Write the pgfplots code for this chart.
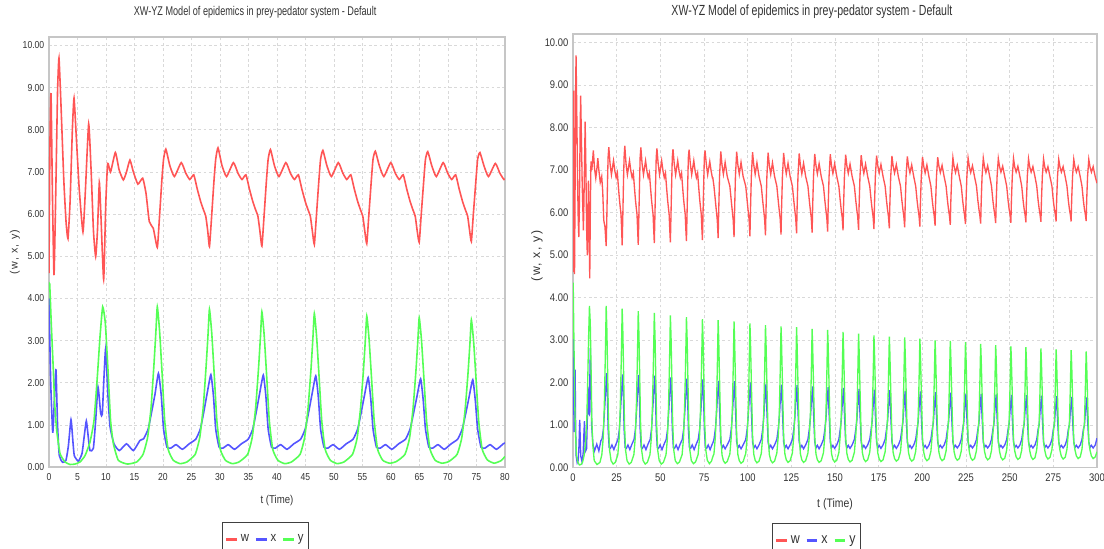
\documentclass[border=0pt]{standalone}
\usepackage{pgfplots}
\pgfplotsset{compat=1.18}
\usepackage{pgfplotstable}
\usepackage{fontspec}
\setmainfont{Liberation Sans}[FakeStretch=0.85]
\newfontfamily\titlefont{Liberation Sans}[FakeStretch=0.72]
\newfontfamily\ylabfont{Liberation Sans}[LetterSpace=12]

\definecolor{cw}{HTML}{FF5555}
\definecolor{cx}{HTML}{5555FF}
\definecolor{cy}{HTML}{55FF55}
\definecolor{txt}{HTML}{333333}

% w (prey) for 0 <= t <= 80
\pgfplotstableread{
t v
0 4.6
0.15 7.5
0.35 8.87
0.6 6.5
0.88 4.55
1.2 6.6
1.5 8.9
1.75 9.70
2.1 8.6
2.6 6.8
3.0 5.8
3.33 5.42
3.7 6.3
4.1 8.0
4.39 8.75
4.8 7.8
5.3 6.6
5.96 5.58
6.4 6.6
6.96 8.14
7.4 7.0
7.8 5.6
8.19 4.99
8.5 5.6
8.83 6.75
9.1 6.0
9.59 4.45
9.95 6.2
10.29 7.20
10.8 7.0
11.64 7.46
12.3 7.05
13.04 6.81
13.6 7.0
14.2 7.28
14.8 7.0
15.6 6.71
16.44 6.85
17.02 6.49
17.6 5.82
18.3 5.66
19.0 5.21
19.35 5.86
19.8 6.8
20.1 7.3
20.5 7.54
21.2 7.15
22.0 6.89
23.2 7.22
24.0 6.97
24.7 6.82
25.4 6.93
26.0 6.6
26.6 6.3
27.1 6.1
27.5 5.95
27.85 5.6
28.15 5.23
28.5 5.88
28.95 6.8
29.25 7.3
29.65 7.57
30.35 7.15
31.15 6.89
32.35 7.22
33.15 6.97
33.85 6.82
34.55 6.93
35.15 6.6
35.75 6.3
36.25 6.1
36.65 5.95
37.0 5.6
37.35 5.24
37.7 5.89
38.15 6.8
38.45 7.3
38.85 7.53
39.55 7.15
40.35 6.89
41.55 7.22
42.35 6.97
43.05 6.82
43.75 6.93
44.35 6.6
44.95 6.3
45.45 6.1
45.85 5.95
46.2 5.6
46.55 5.28
46.9 5.93
47.35 6.8
47.65 7.3
48.05 7.51
48.75 7.15
49.55 6.89
50.75 7.22
51.55 6.97
52.25 6.82
52.95 6.93
53.55 6.6
54.15 6.3
54.65 6.1
55.05 5.95
55.4 5.6
55.75 5.30
56.1 5.95
56.55 6.8
56.85 7.3
57.25 7.49
57.95 7.15
58.75 6.89
59.95 7.22
60.75 6.97
61.45 6.82
62.15 6.93
62.75 6.6
63.35 6.3
63.85 6.1
64.25 5.95
64.6 5.6
64.95 5.33
65.3 5.98
65.75 6.8
66.05 7.3
66.45 7.48
67.15 7.15
67.95 6.89
69.15 7.22
69.95 6.97
70.65 6.82
71.35 6.93
71.95 6.6
72.55 6.3
73.05 6.1
73.45 5.95
73.8 5.6
74.1 5.35
74.45 6.0
74.9 6.8
75.2 7.3
75.6 7.46
76.3 7.15
77.1 6.89
78.3 7.2
79.1 6.97
79.8 6.82
80.0 6.83
}\wA

% x (infected) for 0 <= t <= 80
\pgfplotstableread{
t v
0 4.0
0.3 2.0
0.64 0.83
0.8 1.1
1.0 1.8
1.23 2.30
1.5 1.0
1.81 0.27
2.4 0.11
2.98 0.16
3.4 0.5
3.86 1.12
4.2 0.6
4.44 0.27
5.14 0.14
5.79 0.32
6.2 0.75
6.55 1.09
6.9 0.7
7.19 0.39
7.78 0.44
8.19 1.11
8.6 1.90
9.07 1.27
9.35 1.25
9.6 2.0
9.94 2.81
10.3 1.8
10.7 0.97
11.4 0.55
12.34 0.39
13.6 0.55
14.8 0.39
15.96 0.63
16.6 0.67
17.4 0.9
18.0 1.3
18.6 1.73
19.2 2.22
19.7 1.69
20.1 0.9
20.7 0.47
21.4 0.45
22.3 0.53
23.4 0.42
24.6 0.55
25.75 0.66
26.55 0.9
27.15 1.3
27.75 1.75
28.4 2.19
28.85 1.69
29.25 0.9
29.85 0.47
30.55 0.45
31.45 0.53
32.55 0.42
33.75 0.55
34.95 0.66
35.75 0.9
36.35 1.3
36.95 1.74
37.6 2.18
38.05 1.68
38.45 0.9
39.05 0.47
39.75 0.45
40.65 0.53
41.75 0.42
42.95 0.55
44.15 0.66
44.95 0.9
45.55 1.3
46.15 1.73
46.8 2.16
47.25 1.66
47.65 0.9
48.25 0.47
48.95 0.45
49.85 0.53
50.95 0.42
52.15 0.55
53.35 0.66
54.15 0.9
54.75 1.28
55.35 1.70
56.0 2.12
56.45 1.62
56.85 0.9
57.45 0.47
58.15 0.45
59.05 0.53
60.15 0.42
61.35 0.55
62.55 0.66
63.35 0.9
63.95 1.27
64.55 1.67
65.2 2.09
65.65 1.59
66.05 0.9
66.65 0.47
67.35 0.45
68.25 0.53
69.35 0.42
70.55 0.55
71.7 0.66
72.5 0.9
73.1 1.26
73.7 1.66
74.35 2.07
74.8 1.57
75.2 0.9
75.8 0.47
76.5 0.45
77.4 0.53
78.5 0.42
79.7 0.55
80.0 0.57
}\xA

% y (predator) for 0 <= t <= 80
\pgfplotstableread{
t v
0 4.2
0.12 4.35
0.4 3.4
0.76 2.30
1.0 1.5
1.35 0.87
1.93 0.32
2.81 0.12
3.68 0.06
4.56 0.07
5.44 0.12
6.32 0.27
7.19 0.59
7.9 1.11
8.48 2.14
8.95 3.09
9.42 3.80
9.88 3.41
10.35 2.30
10.8 1.11
11.3 0.55
12.16 0.16
13.74 0.07
15.4 0.12
16.5 0.3
17.3 0.7
17.9 1.4
18.4 2.4
18.75 3.2
19.0 3.80
19.4 3.23
19.85 2.2
20.3 1.1
20.9 0.42
21.8 0.16
23.0 0.08
24.2 0.12
25.65 0.3
26.45 0.7
27.05 1.4
27.55 2.36
27.9 3.14
28.15 3.74
28.55 3.18
29.0 2.17
29.45 1.1
30.05 0.42
30.95 0.16
32.15 0.08
33.35 0.12
34.85 0.3
35.65 0.7
36.25 1.4
36.75 2.32
37.1 3.09
37.35 3.68
37.75 3.13
38.2 2.13
38.65 1.1
39.25 0.42
40.15 0.16
41.35 0.08
42.55 0.12
44.05 0.3
44.85 0.7
45.45 1.4
45.95 2.29
46.3 3.06
46.55 3.64
46.95 3.09
47.4 2.11
47.85 1.1
48.45 0.42
49.35 0.16
50.55 0.08
51.75 0.12
53.25 0.3
54.05 0.68
54.65 1.38
55.15 2.26
55.5 3.01
55.75 3.58
56.15 3.04
56.6 2.08
57.05 1.1
57.65 0.42
58.55 0.16
59.75 0.09
60.95 0.13
62.45 0.3
63.25 0.68
63.85 1.36
64.35 2.23
64.7 2.97
64.95 3.54
65.35 3.01
65.8 2.05
66.25 1.08
66.85 0.42
67.75 0.16
68.95 0.09
70.15 0.13
71.6 0.3
72.4 0.68
73.0 1.35
73.5 2.2
73.85 2.93
74.1 3.49
74.5 2.97
74.95 2.02
75.4 1.07
76.0 0.42
76.9 0.17
78.1 0.09
79.3 0.15
80.0 0.25
}\yA

% w, x, y for 80 <= t <= 300
\pgfplotstableread{
t w x y
80.0 6.83 0.57 0.25
80.7 6.62 0.66 0.32
81.5 6.28 0.90 0.72
82.1 6.03 1.22 1.32
82.6 5.82 1.59 2.29
83.1 5.40 1.88 3.47
83.4 6.00 2.04 3.05
83.9 6.85 1.39 2.08
84.6 7.44 0.60 0.76
85.3 7.12 0.46 0.30
86.1 6.90 0.52 0.16
87.1 7.18 0.44 0.10
88.3 6.85 0.53 0.14
89.8 6.62 0.66 0.32
90.6 6.28 0.90 0.72
91.2 6.03 1.22 1.31
91.7 5.83 1.58 2.27
92.2 5.42 1.87 3.44
92.5 6.02 2.03 3.03
93.0 6.85 1.38 2.06
93.7 7.43 0.60 0.76
94.4 7.12 0.46 0.30
95.2 6.90 0.52 0.16
96.2 7.18 0.44 0.10
97.4 6.85 0.53 0.14
98.9 6.62 0.66 0.33
99.7 6.28 0.90 0.72
100.3 6.03 1.20 1.29
100.8 5.84 1.56 2.24
101.3 5.44 1.84 3.39
101.6 6.04 2.00 2.98
102.1 6.85 1.36 2.03
102.8 7.42 0.60 0.75
103.5 7.12 0.46 0.31
104.3 6.90 0.52 0.17
105.3 7.17 0.44 0.11
106.5 6.85 0.53 0.15
107.8 6.62 0.66 0.33
108.6 6.28 0.90 0.73
109.2 6.04 1.18 1.27
109.7 5.85 1.54 2.21
110.2 5.46 1.81 3.35
110.5 6.06 1.97 2.95
111.0 6.85 1.34 2.01
111.7 7.41 0.60 0.74
112.4 7.11 0.46 0.31
113.2 6.90 0.52 0.17
114.2 7.17 0.44 0.11
115.4 6.85 0.53 0.15
116.7 6.62 0.66 0.34
117.5 6.28 0.90 0.73
118.1 6.04 1.17 1.26
118.6 5.86 1.52 2.19
119.1 5.48 1.79 3.32
119.4 6.08 1.95 2.92
119.9 6.85 1.33 1.99
120.6 7.40 0.60 0.73
121.3 7.11 0.46 0.32
122.1 6.91 0.52 0.18
123.1 7.16 0.44 0.12
124.3 6.85 0.53 0.16
125.6 6.62 0.66 0.34
126.4 6.28 0.90 0.74
127.0 6.05 1.16 1.25
127.5 5.87 1.51 2.18
128.0 5.51 1.78 3.30
128.3 6.10 1.94 2.90
128.8 6.85 1.32 1.98
129.5 7.39 0.60 0.73
130.2 7.11 0.46 0.32
131.0 6.91 0.52 0.18
132.0 7.16 0.44 0.12
133.2 6.85 0.53 0.16
134.5 6.62 0.66 0.34
135.3 6.28 0.90 0.74
135.9 6.05 1.15 1.24
136.4 5.88 1.49 2.15
136.9 5.53 1.76 3.26
137.2 6.12 1.91 2.87
137.7 6.85 1.30 1.96
138.4 7.38 0.60 0.72
139.1 7.11 0.46 0.32
139.9 6.91 0.52 0.18
140.9 7.15 0.44 0.12
142.1 6.85 0.53 0.16
143.4 6.62 0.66 0.35
144.2 6.28 0.90 0.75
144.8 6.05 1.13 1.23
145.3 5.88 1.47 2.14
145.8 5.55 1.74 3.24
146.1 6.13 1.89 2.85
146.6 6.85 1.29 1.94
147.3 7.37 0.60 0.71
148.0 7.10 0.46 0.33
148.8 6.92 0.52 0.19
149.8 7.15 0.45 0.13
151.0 6.85 0.53 0.17
152.2 6.62 0.66 0.35
153.0 6.28 0.90 0.75
153.6 6.05 1.12 1.21
154.1 5.89 1.46 2.11
154.6 5.58 1.72 3.19
154.9 6.15 1.87 2.81
155.4 6.85 1.27 1.91
156.1 7.36 0.60 0.70
156.8 7.10 0.46 0.33
157.6 6.92 0.52 0.19
158.6 7.14 0.45 0.13
159.8 6.85 0.53 0.17
161.1 6.62 0.66 0.36
161.9 6.28 0.90 0.76
162.5 6.06 1.11 1.20
163.0 5.90 1.44 2.08
163.5 5.59 1.70 3.15
163.8 6.16 1.85 2.77
164.3 6.85 1.26 1.89
165.0 7.35 0.60 0.69
165.7 7.10 0.46 0.34
166.5 6.92 0.52 0.20
167.5 7.14 0.45 0.14
168.7 6.85 0.53 0.18
169.9 6.62 0.66 0.36
170.7 6.28 0.90 0.76
171.3 6.06 1.10 1.18
171.8 5.90 1.43 2.05
172.3 5.61 1.68 3.11
172.6 6.18 1.83 2.74
173.1 6.85 1.24 1.87
173.8 7.34 0.60 0.68
174.5 7.10 0.46 0.34
175.3 6.93 0.52 0.20
176.3 7.13 0.45 0.14
177.5 6.85 0.53 0.18
178.7 6.62 0.66 0.37
179.5 6.28 0.90 0.77
180.1 6.06 1.09 1.17
180.6 5.91 1.42 2.03
181.1 5.63 1.67 3.08
181.4 6.19 1.82 2.71
181.9 6.85 1.24 1.85
182.6 7.33 0.60 0.68
183.3 7.09 0.46 0.35
184.1 6.93 0.52 0.21
185.1 7.13 0.45 0.15
186.3 6.84 0.53 0.19
187.5 6.62 0.66 0.37
188.3 6.28 0.90 0.77
188.9 6.06 1.08 1.16
189.4 5.91 1.40 2.02
189.9 5.65 1.66 3.06
190.2 6.20 1.80 2.69
190.7 6.85 1.22 1.84
191.4 7.32 0.60 0.67
192.1 7.09 0.46 0.35
192.9 6.93 0.52 0.21
193.9 7.12 0.45 0.15
195.1 6.84 0.53 0.19
196.2 6.62 0.66 0.38
197.0 6.28 0.90 0.78
197.6 6.07 1.07 1.15
198.1 5.92 1.40 2.00
198.6 5.67 1.65 3.03
198.9 6.22 1.79 2.67
199.4 6.85 1.22 1.82
200.1 7.31 0.60 0.67
200.8 7.09 0.47 0.36
201.6 6.93 0.52 0.22
202.6 7.12 0.45 0.16
203.8 6.84 0.53 0.20
204.9 6.62 0.66 0.38
205.7 6.28 0.90 0.78
206.3 6.07 1.06 1.14
206.8 5.92 1.38 1.97
207.3 5.69 1.63 2.99
207.6 6.23 1.77 2.63
208.1 6.85 1.20 1.79
208.8 7.30 0.60 0.66
209.5 7.09 0.47 0.36
210.3 6.94 0.52 0.22
211.3 7.11 0.46 0.16
212.5 6.84 0.53 0.20
213.6 6.62 0.66 0.39
214.4 6.28 0.90 0.79
215.0 6.07 1.06 1.13
215.5 5.93 1.37 1.97
216.0 5.71 1.62 2.98
216.3 6.24 1.76 2.62
216.8 6.85 1.20 1.79
217.5 7.29 0.60 0.66
218.2 7.08 0.47 0.37
219.0 6.94 0.52 0.23
220.0 7.11 0.46 0.17
221.2 6.84 0.53 0.21
222.3 6.62 0.66 0.39
223.1 6.28 0.90 0.79
223.7 6.07 1.04 1.12
224.2 5.93 1.36 1.95
224.7 5.73 1.60 2.95
225.0 6.25 1.74 2.60
225.5 6.85 1.18 1.77
226.2 7.28 0.60 0.65
226.9 7.08 0.47 0.37
227.7 6.94 0.52 0.23
228.7 7.10 0.46 0.17
229.9 6.84 0.53 0.21
231.0 6.62 0.66 0.40
231.8 6.28 0.90 0.80
232.4 6.08 1.04 1.11
232.9 5.94 1.35 1.92
233.4 5.74 1.59 2.91
233.7 6.26 1.73 2.56
234.2 6.85 1.18 1.75
234.9 7.28 0.60 0.64
235.6 7.08 0.47 0.38
236.4 6.94 0.52 0.24
237.4 7.10 0.46 0.18
238.6 6.84 0.53 0.22
239.6 6.62 0.66 0.40
240.4 6.28 0.90 0.80
241.0 6.08 1.03 1.09
241.5 5.94 1.34 1.90
242.0 5.75 1.58 2.88
242.3 6.27 1.72 2.53
242.8 6.85 1.17 1.73
243.5 7.27 0.60 0.63
244.2 7.08 0.47 0.38
245.0 6.95 0.52 0.24
246.0 7.09 0.46 0.18
247.2 6.84 0.53 0.22
248.3 6.62 0.66 0.41
249.1 6.28 0.90 0.81
249.7 6.08 1.03 1.08
250.2 5.95 1.33 1.88
250.7 5.76 1.57 2.85
251.0 6.28 1.71 2.51
251.5 6.85 1.16 1.71
252.2 7.27 0.60 0.63
252.9 7.07 0.47 0.39
253.7 6.95 0.52 0.25
254.7 7.09 0.46 0.19
255.9 6.84 0.53 0.23
256.9 6.62 0.66 0.41
257.7 6.28 0.90 0.81
258.3 6.08 1.02 1.08
258.8 5.95 1.33 1.87
259.3 5.77 1.56 2.83
259.6 6.28 1.70 2.49
260.1 6.85 1.16 1.70
260.8 7.26 0.60 0.62
261.5 7.07 0.47 0.39
262.3 6.95 0.52 0.25
263.3 7.08 0.46 0.19
264.5 6.84 0.53 0.23
265.5 6.62 0.66 0.42
266.3 6.28 0.90 0.82
266.9 6.08 1.01 1.06
267.4 5.95 1.32 1.85
267.9 5.78 1.55 2.80
268.2 6.29 1.69 2.46
268.7 6.85 1.15 1.68
269.4 7.26 0.60 0.62
270.1 7.07 0.47 0.40
270.9 6.95 0.52 0.26
271.9 7.08 0.46 0.20
273.1 6.84 0.53 0.24
274.2 6.62 0.66 0.42
275.0 6.28 0.90 0.82
275.6 6.08 1.01 1.06
276.1 5.96 1.31 1.83
276.6 5.79 1.55 2.78
276.9 6.30 1.68 2.45
277.4 6.85 1.14 1.67
278.1 7.25 0.60 0.61
278.8 7.07 0.47 0.40
279.6 6.95 0.52 0.26
280.6 7.08 0.46 0.20
281.8 6.84 0.53 0.24
282.8 6.62 0.66 0.43
283.6 6.28 0.90 0.83
284.2 6.08 1.00 1.05
284.7 5.96 1.29 1.82
285.2 5.79 1.53 2.76
285.5 6.30 1.66 2.43
286.0 6.85 1.13 1.66
286.7 7.25 0.60 0.61
287.4 7.07 0.47 0.41
288.2 6.95 0.52 0.27
289.2 7.08 0.46 0.21
290.4 6.84 0.53 0.25
291.4 6.62 0.66 0.43
292.2 6.28 0.90 0.83
292.8 6.08 0.99 1.04
293.3 5.96 1.29 1.80
293.8 5.80 1.52 2.73
294.1 6.30 1.65 2.40
294.6 6.85 1.12 1.64
295.3 7.25 0.60 0.60
296.0 7.07 0.47 0.41
296.8 6.95 0.52 0.27
297.8 7.08 0.46 0.21
299.0 6.84 0.53 0.25
300.0 6.69 0.69 0.37
}\tabB

\pgfplotsset{
  panel/.style={
    scale only axis,
    anchor=south west,
    axis background/.style={fill=white},
    axis line style={gray!45, line width=0.8pt},
    grid=major,
    grid style={gray!30, dash pattern=on 2pt off 2pt, line width=0.4pt},
    major tick length=0pt,
    ymin=0, ymax=10.2,
    ytick={0,1,...,10},
    /pgf/number format/assume math mode=true,
    yticklabel style={/pgf/number format/fixed, /pgf/number format/fixed zerofill, /pgf/number format/precision=2, text=txt},
    xticklabel style={text=txt, yshift=-1.5pt},
    xlabel={t (Time)},
    ylabel={(w, x, y)},
    title={XW-YZ Model of epidemics in prey-pedator system - Default},
    legend columns=3,
    legend style={anchor=north west, draw=black!75, line width=0.9pt, text=txt,
      inner xsep=1.5pt, inner ysep=7pt,
      /tikz/every even column/.append style={column sep=2pt}},
    legend image code/.code={\draw[#1, line width=2.2pt] (0pt,0pt) -- (8pt,0pt);},
  }
}

\begin{document}
\begin{tikzpicture}
\useasboundingbox (0pt,0pt) rectangle (828pt,411.75pt);
% left panel: 0 <= t <= 80
\begin{axis}[panel,
  at={(36.75pt,61.5pt)}, width=342pt, height=322.5pt,
  xmin=0, xmax=80, xtick={0,5,...,80},
  tick label style={font=\fontsize{7.6}{9}\selectfont},
  title style={at={(axis description cs:0.452,1.0395)}, anchor=center, text=txt,
    font=\titlefont\fontsize{9.5}{11}\selectfont},
  xlabel style={at={(axis description cs:0.5,-0.077)}, anchor=center, text=txt,
    font=\fontsize{8.5}{10}\selectfont},
  ylabel style={at={(axis description cs:-0.0746,0.5)}, anchor=center, text=txt,
    font=\ylabfont\fontsize{8}{10}\selectfont},
  legend style={at={(axis description cs:0.3794,-0.128)}, font=\fontsize{10}{12}\selectfont},
]
  \addplot[cw, line width=1.2pt, smooth, tension=0.3] table[x=t, y=v]{\wA};
  \addplot[cx, line width=1.2pt, smooth, tension=0.3] table[x=t, y=v]{\xA};
  \addplot[cy, line width=1.2pt, smooth, tension=0.3] table[x=t, y=v]{\yA};
  \legend{w, x, y}
\end{axis}
% right panel: 0 <= t <= 300
\begin{axis}[panel,
  at={(429.75pt,61.125pt)}, width=393pt, height=325.1pt,
  xmin=0, xmax=300, xtick={0,25,...,300},
  tick label style={font=\fontsize{8.3}{10}\selectfont},
  title style={at={(axis description cs:0.456,1.032)}, anchor=center, text=txt,
    font=\titlefont\fontsize{11}{13}\selectfont},
  xlabel style={at={(axis description cs:0.5,-0.084)}, anchor=center, text=txt,
    font=\fontsize{9.2}{11}\selectfont},
  ylabel style={at={(axis description cs:-0.0687,0.488)}, anchor=center, text=txt,
    font=\ylabfont\fontsize{9.2}{11}\selectfont},
  legend style={at={(axis description cs:0.3798,-0.128)}, font=\fontsize{11}{13}\selectfont},
]
  \addplot[cw, line width=1pt] table[x=t, y=v]{\wA};
  \addplot[cw, line width=1pt, forget plot] table[x=t, y=w]{\tabB};
  \addplot[cx, line width=1pt] table[x=t, y=v]{\xA};
  \addplot[cx, line width=1pt, forget plot] table[x=t, y=x]{\tabB};
  \addplot[cy, line width=1pt] table[x=t, y=v]{\yA};
  \addplot[cy, line width=1pt, forget plot] table[x=t, y=y]{\tabB};
  \legend{w, x, y}
\end{axis}
\end{tikzpicture}
\end{document}
